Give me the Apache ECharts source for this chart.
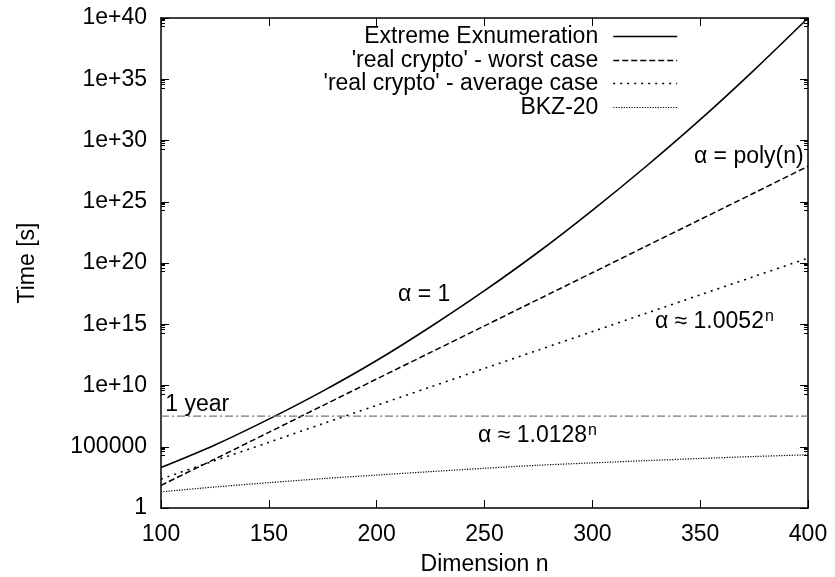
<!DOCTYPE html>
<html><head><meta charset="utf-8">
<script src="https://cdn.jsdelivr.net/npm/echarts@6/dist/echarts.min.js"></script>
<style>html,body{margin:0;padding:0;background:#fff}#c{width:835px;height:577px}</style>
</head><body><div id="c"></div>
<script>
const dims = [100,125,150,175,200,225,250,275,300,325,350,375,400];
const extremeEnum = [2.0e3,1.4e5,1.8e7,3.5e9,1.1e12,6.3e14,5.5e17,7.9e20,2.0e24,7.9e27,5.0e31,5.6e35,1e40];
const worstCase   = [7.1e1,1.0e4,1.5e6,2.3e8,3.4e10,5.0e12,7.4e14,1.1e17,1.6e19,2.4e21,3.5e23,5.2e25,7.9e27];
const avgCase     = [2.3e2,7.4e3,2.3e5,7.6e6,2.4e8,7.6e9,2.5e11,7.8e12,2.5e14,7.9e15,2.5e17,7.9e18,2.5e20];
const bkz20       = [21,52,117,251,490,933,1.74e3,3.1e3,4.8e3,7.4e3,1.1e4,1.6e4,2.2e4];
const oneYear = 31536000;
const xRange = [100,400];
const seriesNames = ["Extreme Exnumeration","'real crypto' - worst case","'real crypto' - average case","BKZ-20"];
const annotations = [
  {n:102, v:2.6e8, text:'1 year', align:'left'},
  {n:222, v:2.5e17, text:'α = 1', align:'center'},
  {n:398, v:4.5e28, text:'α = poly(n)', align:'right'},
  {n:329, v:1.5e15, text:'α ≈ 1.0052', sup:'n', align:'left'},
  {n:247, v:7.6e5, text:'α ≈ 1.0128', sup:'n', align:'left'}
];

const FONT = '"Liberation Sans", Arial, sans-serif';
const FS = 23;
const pair = arr => dims.map((d,i)=>[d,arr[i]]);
function fmtY(v){
  const e = Math.round(Math.log10(v));
  if (e === 0) return '1';
  if (e === 5) return '100000';
  return '1e+' + e;
}
const chart = echarts.init(document.getElementById('c'), null, {renderer:'canvas'});
const lineStyles = [
  {color:'#000', width:1.6, type:'solid'},
  {color:'#000', width:1.5, type:[6,3]},
  {color:'#000', width:1.6, type:[2,5]},
  {color:'#000', width:1.2, type:[1.2,1.4]}
];
const datas = [extremeEnum, worstCase, avgCase, bkz20];
const legendTops = [25, 49, 72, 96];
const series = datas.map((d,i)=>({
  name: seriesNames[i], type:'line', data: pair(d), smooth: 0.3, symbol:'none',
  lineStyle: lineStyles[i], itemStyle:{color:'#000'}, z: 3, silent:true
}));
series.push({
  name:'1 year', type:'line', data:[[xRange[0],oneYear],[xRange[1],oneYear]], symbol:'none',
  lineStyle:{color:'#777', width:1.2, type:[8,3,2,3]}, silent:true
});
const legends = seriesNames.map((nm,i)=>({
  data:[nm], orient:'vertical', align:'right', right:157, top:legendTops[i],
  itemWidth:64, itemHeight:14, selectedMode:false, padding:0,
  textStyle:{fontFamily:FONT, fontSize:FS, color:'#000', padding:[0,10,0,0]},
  itemStyle:{opacity:0, color:'transparent', borderWidth:0},
  lineStyle: {type: lineStyles[i].type, width: lineStyles[i].width, color:'#000', opacity:1}
}));
const axisCommon = {
  axisLine:{show:true, lineStyle:{color:'#000', width:1.5}},
  splitLine:{show:false}
};
chart.setOption({
  animation:false,
  grid:{left:161, right:27, top:18, bottom:69, containLabel:false, outerBoundsMode:'none'},
  legend: legends,
  xAxis:[
    Object.assign({type:'value', min:xRange[0], max:xRange[1], interval:50, position:'bottom',
      name:'Dimension n', nameLocation:'middle', nameGap:45,
      nameTextStyle:{fontFamily:FONT, fontSize:FS, color:'#000'},
      axisTick:{inside:true, length:8, lineStyle:{color:'#000'}},
      axisLabel:{fontFamily:FONT, fontSize:FS, color:'#000', margin:15}}, axisCommon),
    Object.assign({type:'value', min:xRange[0], max:xRange[1], interval:50, position:'top',
      axisTick:{inside:true, length:8, lineStyle:{color:'#000'}},
      axisLabel:{show:false}}, axisCommon)
  ],
  yAxis:[
    Object.assign({type:'log', logBase:10, min:1, max:1e40, interval:5, position:'left',
      name:'Time [s]', nameLocation:'middle', nameGap:122,
      nameTextStyle:{fontFamily:FONT, fontSize:FS, color:'#000'},
      axisTick:{inside:true, length:8, lineStyle:{color:'#000'}},
      minorTick:{show:true, splitNumber:5, length:4, lineStyle:{color:'#000'}},
      axisLabel:{fontFamily:FONT, fontSize:FS, color:'#000', margin:14, formatter:fmtY,
        showMinLabel:true, showMaxLabel:true}}, axisCommon),
    Object.assign({type:'log', logBase:10, min:1, max:1e40, interval:5, position:'right',
      axisTick:{inside:true, length:8, lineStyle:{color:'#000'}},
      minorTick:{show:true, splitNumber:5, length:4, lineStyle:{color:'#000'}},
      axisLabel:{show:false}}, axisCommon)
  ],
  series: series
});
const graphics = annotations.map(a=>{
  const p = chart.convertToPixel({xAxisIndex:0, yAxisIndex:0}, [a.n, a.v]);
  const txt = a.sup ? '{m|'+a.text+'}{s|'+a.sup+'}' : '{m|'+a.text+'}';
  return {type:'text', x:p[0], y:p[1], z:10, silent:true,
    style:{text:txt, align:a.align, verticalAlign:'middle', fill:'#000',
      rich:{m:{fontFamily:FONT, fontSize:FS, color:'#000', lineHeight:26},
            s:{fontFamily:FONT, fontSize:16, color:'#000', verticalAlign:'top', lineHeight:26, padding:[0,0,10,1]}}}};
});
chart.setOption({graphic: graphics});
</script>
</body></html>
